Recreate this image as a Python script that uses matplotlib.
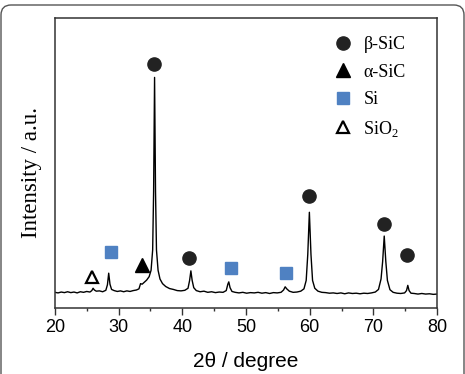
import matplotlib
matplotlib.use("Agg")
import matplotlib.pyplot as plt
from matplotlib.lines import Line2D
from matplotlib.patches import FancyBboxPatch
from matplotlib.ticker import MultipleLocator

# XRD pattern (2theta in degree, intensity in a.u.)
two_theta = [20.0, 20.5, 21.0, 21.5, 22.0, 22.5, 23.0, 23.5, 24.0, 24.5, 25.0, 25.5,
             25.8, 26.0, 26.2, 26.5, 27.0, 27.5, 28.0, 28.25, 28.45, 28.65, 28.9, 29.3,
             29.8, 30.3, 30.8, 31.3, 31.8, 32.3, 32.8, 33.2, 33.45, 33.7, 34.0, 34.4,
             34.8, 35.1, 35.35, 35.5, 35.65, 35.8, 35.95, 36.2, 36.5, 36.9, 37.4, 38.0,
             38.6, 39.2, 39.8, 40.4, 40.9, 41.15, 41.35, 41.55, 41.8, 42.2, 42.8, 43.4,
             44.0, 44.6, 45.2, 45.8, 46.4, 46.9, 47.15, 47.3, 47.5, 47.8, 48.3, 48.9,
             49.5, 50.1, 50.7, 51.3, 51.9, 52.5, 53.1, 53.7, 54.3, 54.9, 55.5, 55.9,
             56.15, 56.4, 56.8, 57.4, 58.0, 58.6, 59.1, 59.45, 59.7, 59.95, 60.2, 60.45,
             60.8, 61.3, 61.9, 62.5, 63.1, 63.7, 64.3, 64.9, 65.5, 66.1, 66.7, 67.3,
             67.9, 68.5, 69.1, 69.7, 70.3, 70.8, 71.2, 71.45, 71.7, 71.95, 72.2, 72.6,
             73.1, 73.7, 74.3, 74.9, 75.2, 75.4, 75.6, 75.9, 76.4, 77.0, 77.6, 78.2,
             78.8, 79.4, 80.0]
intensity = [5.4, 5.2, 5.5, 5.3, 5.6, 5.3, 5.5, 5.2, 5.6, 5.4, 5.7, 5.5,
             6.0, 6.8, 6.2, 5.8, 5.9, 5.6, 6.1, 8.0, 12.0, 8.2, 6.4, 6.0,
             5.7, 5.9, 5.6, 5.9, 5.7, 6.0, 6.2, 6.6, 8.4, 8.2, 8.8, 9.6,
             10.8, 13.0, 20.0, 40.0, 79.5, 40.0, 20.0, 13.0, 10.0, 8.4, 7.4, 6.7,
             6.4, 6.0, 5.9, 6.1, 6.8, 9.5, 12.8, 9.5, 7.0, 6.0, 5.6, 5.8,
             5.4, 5.6, 5.3, 5.5, 5.4, 6.0, 8.2, 9.0, 7.0, 5.7, 5.4, 5.2,
             5.4, 5.1, 5.3, 5.2, 5.4, 5.1, 5.3, 5.0, 5.3, 5.2, 5.4, 6.2,
             7.3, 6.6, 5.8, 5.4, 5.5, 5.8, 6.6, 9.5, 18.5, 33.0, 18.5, 9.5,
             6.8, 5.8, 5.4, 5.3, 5.1, 5.2, 5.0, 5.2, 4.9, 5.2, 5.0, 5.1,
             4.9, 5.1, 5.0, 5.2, 5.5, 6.4, 10.0, 16.0, 24.8, 16.0, 9.5, 6.3,
             5.4, 5.1, 5.0, 5.2, 6.0, 7.8, 6.0, 5.1, 5.0, 4.8, 5.0, 4.8,
             4.9, 4.7, 4.8]

# phase markers
beta_x = [35.55, 41.1, 59.9, 71.7, 75.2]
beta_y = [84.0, 17.1, 38.7, 28.9, 18.3]
alpha_x = [33.7]
alpha_y = [14.8]
si_x = [28.8, 47.6, 56.3]
si_y = [19.2, 13.7, 12.2]
sio2_x = [25.9]
sio2_y = [10.8]

labels = ["β-SiC", "α-SiC", "Si", "SiO$_2$"]

plt.rcParams["mathtext.fontset"] = "custom"
plt.rcParams["mathtext.rm"] = "Liberation Serif"

fig = plt.figure(figsize=(4.65, 3.74), dpi=100)
ax = fig.add_axes([0.118, 0.1765, 0.822, 0.7755])

# rounded frame around the whole picture
frame = FancyBboxPatch((0.01, -0.3), 4.63, 3.99,
                       boxstyle="round,pad=0,rounding_size=0.1",
                       transform=fig.dpi_scale_trans, fill=False,
                       edgecolor="#555555", linewidth=1.0)
fig.patches.append(frame)

ax.plot(two_theta, intensity, color="black", linewidth=1.0)

beta_style = dict(marker="o", color="#222222", markersize=9.5, linestyle="none")
alpha_style = dict(marker="^", color="black", markersize=9.5, linestyle="none")
si_style = dict(marker="s", color="#4f81c2", markersize=8, linestyle="none")
sio2_style = dict(marker="^", markerfacecolor="white", markeredgecolor="black",
                  markeredgewidth=1.6, markersize=9, linestyle="none")

ax.plot(beta_x, beta_y, **beta_style)
ax.plot(alpha_x, alpha_y, **alpha_style)
ax.plot(si_x, si_y, **si_style)
ax.plot(sio2_x, sio2_y, **sio2_style)

handles = [Line2D([], [], **beta_style), Line2D([], [], **alpha_style),
           Line2D([], [], **si_style), Line2D([], [], **sio2_style)]
ax.legend(handles, labels, loc="upper left", bbox_to_anchor=(0.734, 0.937),
          frameon=False, borderpad=0, borderaxespad=0, handlelength=0.85,
          handletextpad=0.7, labelspacing=0.58,
          prop={"family": "Liberation Serif", "size": 13})

ax.set_xlim(20, 80)
ax.set_ylim(0, 100)
ax.set_yticks([])
ax.xaxis.set_major_locator(MultipleLocator(10))
ax.xaxis.set_minor_locator(MultipleLocator(5))
ax.tick_params(axis="x", which="major", direction="out", length=5, width=1.0,
               color="#333333", pad=3, labelsize=13)
ax.tick_params(axis="x", which="minor", direction="out", length=2.5, width=1.0,
               color="#333333")
for lab in ax.get_xticklabels():
    lab.set_family("Liberation Sans")

for sp in ax.spines.values():
    sp.set_color("#333333")
    sp.set_linewidth(1.1)

ax.set_xlabel("2θ / degree", family="Liberation Sans", fontsize=15, labelpad=11.5)
ax.set_ylabel("Intensity / a.u.", family="Liberation Serif", fontsize=16.5)
ax.yaxis.set_label_coords(-0.034, 0.466)

fig.savefig("out.png", dpi=100)
